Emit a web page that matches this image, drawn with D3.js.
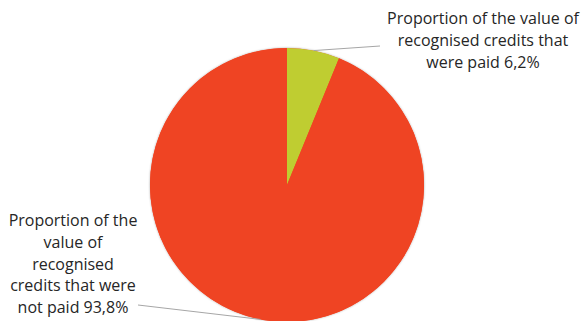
<!DOCTYPE html>
<html><head><meta charset="utf-8">
<script src="https://cdn.jsdelivr.net/npm/d3@7"></script>
<style>html,body{margin:0;padding:0;background:#fff;}</style>
</head><body>
<svg id="c" width="582" height="321"></svg>
<script>
const categories = ["Proportion of the value of recognised credits that were paid", "Proportion of the value of recognised credits that were not paid"];
const values = [6.2, 93.8];
const valueLabels = ["6,2%", "93,8%"];
const colors = ["#BFCD31", "#EF4423"];
const labelLines = [
  ["Proportion of the value of", "recognised credits that", "were paid 6,2%"],
  ["Proportion of the", "value of", "recognised", "credits that were", "not paid 93,8%"]
];

const svg = d3.select("#c");
const cx = 287, cy = 185, r = 137;
const defs = svg.append("defs");
const f = defs.append("filter").attr("id","sh").attr("x","-10%").attr("y","-10%").attr("width","120%").attr("height","120%");
f.append("feGaussianBlur").attr("in","SourceAlpha").attr("stdDeviation",1.2).attr("result","b");
f.append("feFlood").attr("flood-color","#000").attr("flood-opacity",0.35);
f.append("feComposite").attr("in2","b").attr("operator","in").attr("result","s");
const m = f.append("feMerge"); m.append("feMergeNode").attr("in","s"); m.append("feMergeNode").attr("in","SourceGraphic");

const pie = d3.pie().sort(null).value(d => d)(values);
const arc = d3.arc().innerRadius(0).outerRadius(r);
const g = svg.append("g").attr("transform", `translate(${cx},${cy})`);
g.append("circle").attr("r", r).attr("fill","#EF4423").attr("filter","url(#sh)");
g.selectAll("path").data(pie).join("path").attr("d", arc).attr("fill", (d,i) => colors[i]);

// leader lines
const outer = d3.arc().innerRadius(r).outerRadius(r);
const ends = [[380, 46], [138, 305]];
pie.forEach((d,i) => {
  const p = outer.centroid(d);
  svg.append("line")
    .attr("x1", cx + p[0]).attr("y1", cy + p[1])
    .attr("x2", ends[i][0]).attr("y2", ends[i][1])
    .attr("stroke", "#a6a6a6").attr("stroke-width", 1);
});

const font = "'Open Sans', sans-serif";
const labelPos = [[483, 24, 22], [73, 226, 21.8]];
labelLines.forEach((lines, i) => {
  const t = svg.append("text").attr("text-anchor","middle")
    .attr("font-family", font).attr("font-size", 16).attr("fill","#262626");
  lines.forEach((l, j) => {
    t.append("tspan").attr("x", labelPos[i][0]).attr("y", labelPos[i][1] + j*labelPos[i][2]).text(l);
  });
});
</script>
</body></html>
